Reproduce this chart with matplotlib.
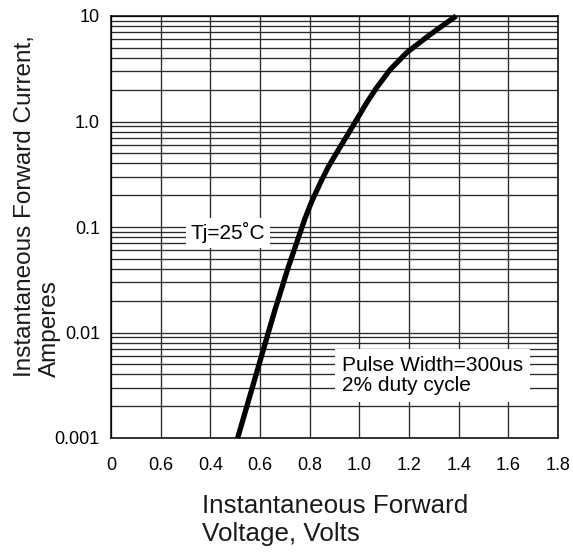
import matplotlib
matplotlib.use("Agg")
import matplotlib.pyplot as plt
from matplotlib import font_manager
from matplotlib.ticker import LogLocator, NullFormatter

# forward characteristic
volts = [0.51, 0.593, 0.66, 0.714, 0.781, 0.808, 0.842, 0.875, 0.915, 0.956,
         0.996, 1.03, 1.07, 1.124, 1.191, 1.271, 1.325, 1.39]
amps = [0.001, 0.0047, 0.0163, 0.0417, 0.120, 0.174, 0.259, 0.372, 0.535, 0.77,
        1.11, 1.51, 2.1, 3.1, 4.5, 6.3, 7.8, 10]

xticks = [0, 0.2, 0.4, 0.6, 0.8, 1.0, 1.2, 1.4, 1.6, 1.8]
xticklabels = ['0', '0.6', '0.4', '0.6', '0.8', '1.0', '1.2', '1.4', '1.6', '1.8']
yticks = [0.001, 0.01, 0.1, 1, 10]
yticklabels = ['0.001', '0.01', '0.1', '1.0', '10']

main_font = ['Liberation Sans', 'DejaVu Sans']
try:
    font_manager.findfont('Liberation Sans Narrow', fallback_to_default=False)
    tick_font = ['Liberation Sans Narrow', 'Liberation Sans', 'DejaVu Sans']
    tick_size = 15
except Exception:
    tick_font = main_font
    tick_size = 13

plt.rcParams['font.family'] = main_font

W, H = 573, 553
fig = plt.figure(figsize=(W / 100, H / 100), dpi=100)
ax = fig.add_axes([111 / W, 1 - 438 / H, 447 / W, 422 / H])

ax.set_yscale('log')
ax.set_xlim(0, 1.8)
ax.set_ylim(0.001, 10)

gc = '#2a2a2a'
ax.set_xticks(xticks)
ax.set_xticklabels(xticklabels, fontfamily=tick_font, fontsize=tick_size)
ax.set_yticks(yticks)
ax.set_yticklabels(yticklabels, fontfamily=tick_font, fontsize=tick_size)
ax.yaxis.set_minor_locator(LogLocator(base=10, subs=range(2, 10)))
ax.yaxis.set_minor_formatter(NullFormatter())
ax.tick_params(axis='both', which='both', length=0)
ax.tick_params(axis='x', pad=14)
ax.tick_params(axis='y', pad=8)
ax.grid(True, which='both', axis='y', color=gc, lw=0.95)
ax.grid(True, which='major', axis='x', color=gc, lw=0.95)
for s in ax.spines.values():
    s.set_color('black')
    s.set_linewidth(1.1)

ax.plot(volts, amps, color='black', lw=3.8, solid_capstyle='butt',
        solid_joinstyle='round', zorder=5, clip_on=False)

ax.text(0.471, 0.088, 'Tj=25˚C', fontsize=15, ha='center', va='center', zorder=4,
        bbox=dict(boxstyle='square,pad=0.22', fc='white', ec='none'))
ax.text(0.93, 0.0039, 'Pulse Width=300us\n2% duty cycle', fontsize=15, ha='left', va='center',
        zorder=4, linespacing=1.05,
        bbox=dict(boxstyle='square,pad=0.35', fc='white', ec='none'))

fig.text(202 / W, 1 - 494 / H, 'Instantaneous Forward\nVoltage, Volts', fontsize=18.7,
         ha='left', va='top', multialignment='left', color='#1a1a1a')
fig.text(14 / W, 1 - 377 / H, 'Instantaneous Forward Current,\nAmperes', fontsize=17.5,
         rotation=90, ha='left', va='bottom', multialignment='left', color='#1a1a1a')

fig.savefig('out.png', dpi=100)
